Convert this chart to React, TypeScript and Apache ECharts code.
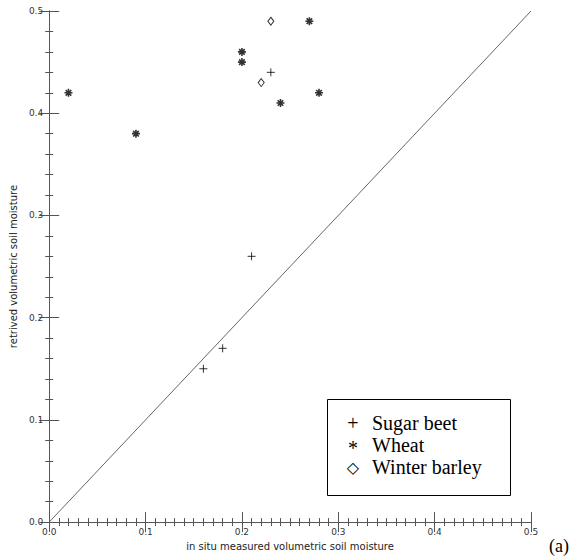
import React, { useEffect, useRef } from "react";
import * as echarts from "echarts";

const xTicks = [0, 0.1, 0.2, 0.3, 0.4, 0.5];
const sugarBeet: [number, number][] = [
  [0.16, 0.15],
  [0.18, 0.17],
  [0.21, 0.26],
  [0.23, 0.44],
];
const wheat: [number, number][] = [
  [0.02, 0.42],
  [0.09, 0.38],
  [0.2, 0.46],
  [0.2, 0.45],
  [0.24, 0.41],
  [0.27, 0.49],
  [0.28, 0.42],
];
const winterBarley: [number, number][] = [
  [0.22, 0.43],
  [0.23, 0.49],
];
const oneToOne: [number, number][] = [
  [0, 0],
  [0.5, 0.5],
];
const legendNames = ["Sugar beet", "Wheat", "Winter barley"];
const legendGlyphs = ["+", "*", "\u25C7"];

const AXIS_COLOR = "#555";

export default function App() {
  const ref = useRef<HTMLDivElement>(null);
  useEffect(() => {
    if (!ref.current) return;
    const chart = echarts.init(ref.current, undefined, { renderer: "svg" });
    const baseX = {
      type: "value" as const,
      min: xTicks[0],
      max: xTicks[xTicks.length - 1],
      interval: 0.1,
      axisLine: { show: true, lineStyle: { color: AXIS_COLOR, width: 1 } },
      axisTick: { show: true, inside: true, length: 10, lineStyle: { color: AXIS_COLOR } },
      minorTick: { show: true, splitNumber: 10, length: 4, lineStyle: { color: AXIS_COLOR } },
      splitLine: { show: false },
      minorSplitLine: { show: false },
    };
    const baseY = {
      ...baseX,
      minorTick: { show: true, splitNumber: 5, length: 4, lineStyle: { color: AXIS_COLOR } },
    };
    const labelStyle = {
      fontFamily: "DejaVu Sans",
      fontSize: 9,
      color: "#333",
      formatter: (v: number) => v.toFixed(1),
    };
    const legendTop = 399;
    const legendItems: any[] = [
      {
        type: "rect",
        left: 327,
        top: legendTop,
        shape: { width: 183, height: 96 },
        style: { fill: "#fff", stroke: "#000", lineWidth: 1 },
        z: 100,
      },
    ];
    legendNames.forEach((name, i) => {
      const cy = 423 + i * 22;
      legendItems.push({
        type: "text",
        x: 353,
        y: i === 1 ? cy + 3 : cy,
        style: {
          text: legendGlyphs[i],
          font: i === 2 ? "16px 'DejaVu Sans'" : "20px 'Liberation Serif'",
          fill: "#000",
          align: "center",
          verticalAlign: "middle",
        },
        z: 101,
      });
      legendItems.push({
        type: "text",
        x: 372,
        y: cy,
        style: {
          text: name,
          font: "20px 'Liberation Serif'",
          fill: "#000",
          align: "left",
          verticalAlign: "middle",
        },
        z: 101,
      });
    });
    legendItems.push({
      type: "text",
      x: 549,
      y: 537,
      style: {
        text: "(a)",
        font: "18px 'Liberation Serif'",
        fill: "#000",
        align: "left",
        verticalAlign: "top",
      },
    });

    chart.setOption({
      animation: false,
      backgroundColor: "#fff",
      grid: { left: 41, right: 40, top: 11, bottom: 30, containLabel: false },
      xAxis: [
        {
          ...baseX,
          position: "bottom",
          name: "in situ measured volumetric soil moisture",
          nameLocation: "middle",
          nameGap: 17,
          nameTextStyle: { fontFamily: "DejaVu Sans", fontSize: 10, color: "#222" },
          axisLabel: { ...labelStyle, margin: 5 },
        },
        { ...baseX, position: "top", axisLabel: { show: false } },
      ],
      yAxis: [
        {
          ...baseY,
          position: "left",
          name: "retrived volumetric soil moisture",
          nameLocation: "middle",
          nameGap: 27,
          nameTextStyle: { fontFamily: "DejaVu Sans", fontSize: 10, color: "#222" },
          axisLabel: { ...labelStyle, margin: 6 },
        },
        { ...baseY, position: "right", axisLabel: { show: false } },
      ],
      series: [
        {
          type: "line",
          data: oneToOne,
          symbol: "none",
          lineStyle: { color: "#666", width: 1 },
          silent: true,
        },
        {
          name: legendNames[0],
          type: "scatter",
          data: sugarBeet,
          symbol: "path://M5,0L5,10M0,5L10,5",
          symbolSize: 8,
          itemStyle: { color: "transparent", borderColor: "#000", borderWidth: 1 },
        },
        {
          name: legendNames[1],
          type: "scatter",
          data: wheat,
          symbol: "path://M5,0L5,10M0,5L10,5M1.5,1.5L8.5,8.5M8.5,1.5L1.5,8.5",
          symbolSize: 8,
          itemStyle: { color: "transparent", borderColor: "#000", borderWidth: 1.6 },
        },
        {
          name: legendNames[2],
          type: "scatter",
          data: winterBarley,
          symbol: "diamond",
          symbolSize: [6, 8],
          itemStyle: { color: "transparent", borderColor: "#000", borderWidth: 1 },
        },
      ],
      graphic: legendItems,
    });
    return () => chart.dispose();
  }, []);
  return <div ref={ref} style={{ width: 571, height: 556, position: "absolute", left: 0, top: 0 }} />;
}
